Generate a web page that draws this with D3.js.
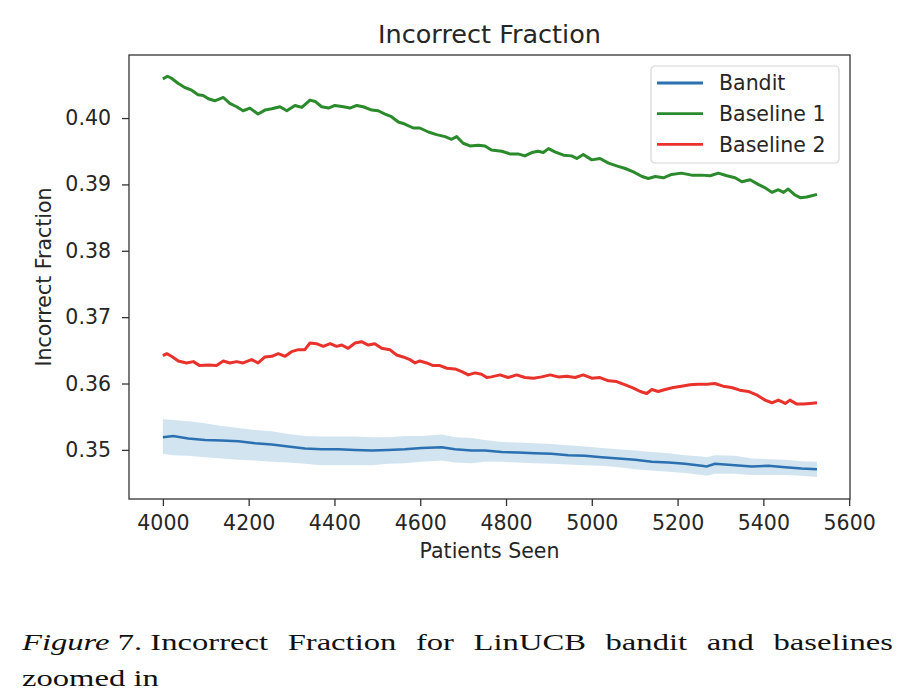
<!DOCTYPE html>
<html>
<head>
<meta charset="utf-8">
<script src="https://cdn.jsdelivr.net/npm/d3@7"></script>
<style>
  body { margin: 0; background: #fff; }
  text { fill: #262626; }
</style>
</head>
<body>
<div id="chart"></div>
<script>
// 刻度
const xTicks = [4000, 4200, 4400, 4600, 4800, 5000, 5200, 5400, 5600];
const yTicks = [0.35, 0.36, 0.37, 0.38, 0.39, 0.40];

const seriesNames = ["Bandit", "Baseline 1", "Baseline 2"];
const seriesColors = ["#2b70b0", "#2b8a2b", "#e8322b"];

// Baseline 1 [patients, fraction]
const baseline1 = [
  [4000, 0.4059], [4011, 0.4063], [4020, 0.4060], [4036, 0.4052], [4051, 0.4046],
  [4067, 0.4042], [4082, 0.4035], [4094, 0.4034], [4106, 0.4029], [4121, 0.4026],
  [4141, 0.4031], [4156, 0.4022], [4172, 0.4017], [4187, 0.4011], [4203, 0.4015],
  [4222, 0.4006], [4238, 0.4012], [4254, 0.4014], [4273, 0.4017], [4289, 0.4011],
  [4308, 0.4019], [4324, 0.4016], [4343, 0.4027], [4355, 0.4025], [4370, 0.4017],
  [4386, 0.4015], [4401, 0.4019], [4421, 0.4017], [4436, 0.4015], [4452, 0.4019],
  [4467, 0.4017], [4487, 0.4012], [4502, 0.4011], [4518, 0.4006], [4533, 0.4002],
  [4549, 0.3994], [4564, 0.3991], [4584, 0.3985], [4599, 0.3985], [4619, 0.3979],
  [4638, 0.3975], [4658, 0.3972], [4673, 0.3968], [4685, 0.3972], [4700, 0.3962],
  [4716, 0.3958], [4735, 0.3959], [4751, 0.3958], [4766, 0.3952], [4790, 0.3950],
  [4809, 0.3946], [4828, 0.3946], [4844, 0.3943], [4860, 0.3948], [4875, 0.3950],
  [4887, 0.3948], [4899, 0.3954], [4914, 0.3949], [4934, 0.3944], [4953, 0.3943],
  [4965, 0.3939], [4980, 0.3945], [5000, 0.3937], [5019, 0.3939], [5039, 0.3932],
  [5058, 0.3928], [5078, 0.3924], [5097, 0.3919], [5117, 0.3912], [5132, 0.3909],
  [5148, 0.3912], [5167, 0.3910], [5186, 0.3915], [5209, 0.3917], [5233, 0.3914],
  [5256, 0.3914], [5276, 0.3913], [5295, 0.3917], [5315, 0.3913], [5334, 0.3910],
  [5350, 0.3904], [5369, 0.3907], [5388, 0.3900], [5404, 0.3895], [5420, 0.3888],
  [5435, 0.3892], [5447, 0.3888], [5458, 0.3893], [5474, 0.3884], [5486, 0.3880],
  [5501, 0.3881], [5513, 0.3883], [5525, 0.3885]
];

// Baseline 2
const baseline2 = [
  [4000, 0.3642], [4009, 0.3645], [4020, 0.3641], [4036, 0.3634], [4055, 0.3631],
  [4071, 0.3633], [4086, 0.3627], [4106, 0.3628], [4125, 0.3627], [4141, 0.3634],
  [4156, 0.3631], [4172, 0.3633], [4187, 0.3631], [4207, 0.3636], [4222, 0.3631],
  [4238, 0.3640], [4254, 0.3641], [4269, 0.3645], [4285, 0.3641], [4300, 0.3648],
  [4316, 0.3651], [4331, 0.3651], [4343, 0.3661], [4358, 0.3660], [4374, 0.3656],
  [4390, 0.3660], [4405, 0.3656], [4417, 0.3658], [4432, 0.3653], [4448, 0.3661],
  [4463, 0.3663], [4479, 0.3658], [4494, 0.3660], [4510, 0.3653], [4529, 0.3651],
  [4545, 0.3643], [4560, 0.3640], [4576, 0.3636], [4588, 0.3631], [4599, 0.3634],
  [4615, 0.3631], [4630, 0.3627], [4646, 0.3627], [4662, 0.3623], [4681, 0.3622],
  [4697, 0.3618], [4712, 0.3613], [4728, 0.3616], [4743, 0.3614], [4755, 0.3609],
  [4766, 0.3610], [4786, 0.3613], [4805, 0.3609], [4825, 0.3613], [4844, 0.3609],
  [4864, 0.3608], [4883, 0.3610], [4903, 0.3613], [4922, 0.3610], [4942, 0.3611],
  [4961, 0.3609], [4980, 0.3613], [5000, 0.3608], [5019, 0.3609], [5039, 0.3604],
  [5058, 0.3603], [5078, 0.3598], [5097, 0.3593], [5113, 0.3588], [5128, 0.3585],
  [5140, 0.3591], [5155, 0.3588], [5171, 0.3591], [5190, 0.3594], [5209, 0.3596],
  [5229, 0.3598], [5248, 0.3599], [5268, 0.3599], [5287, 0.3600], [5306, 0.3596],
  [5326, 0.3594], [5345, 0.3590], [5365, 0.3588], [5384, 0.3583], [5404, 0.3575],
  [5420, 0.3571], [5435, 0.3575], [5451, 0.3570], [5462, 0.3575], [5478, 0.3569],
  [5493, 0.3569], [5509, 0.3570], [5525, 0.3571]
];

// Bandit: 均值与置信带
const banditX = [4000, 4024, 4059, 4098, 4137, 4176, 4215, 4254, 4292, 4331,
  4370, 4409, 4448, 4487, 4525, 4564, 4603, 4650, 4681, 4720,
  4751, 4790, 4828, 4867, 4906, 4945, 4984, 5023, 5062, 5101,
  5140, 5179, 5217, 5256, 5268, 5287, 5334, 5373, 5412, 5451, 5489, 5525];
const banditMean = [0.3519, 0.3521, 0.3517, 0.3515, 0.3514, 0.3513, 0.3510, 0.3508, 0.3505, 0.3502,
  0.3501, 0.3501, 0.3500, 0.3499, 0.3500, 0.3501, 0.3503, 0.3504, 0.3501, 0.3499,
  0.3499, 0.3497, 0.3496, 0.3495, 0.3494, 0.3492, 0.3491, 0.3489, 0.3487, 0.3485,
  0.3482, 0.3481, 0.3479, 0.3476, 0.3475, 0.3479, 0.3477, 0.3475, 0.3476, 0.3474, 0.3472, 0.3471];
const banditHi = [0.3546, 0.3545, 0.3543, 0.3540, 0.3536, 0.3533, 0.3530, 0.3528, 0.3524, 0.3521,
  0.3520, 0.3520, 0.3520, 0.3519, 0.3519, 0.3521, 0.3521, 0.3523, 0.3519, 0.3518,
  0.3515, 0.3512, 0.3511, 0.3510, 0.3509, 0.3507, 0.3505, 0.3503, 0.3501, 0.3499,
  0.3497, 0.3495, 0.3492, 0.3490, 0.3489, 0.3492, 0.3491, 0.3487, 0.3486, 0.3485, 0.3483, 0.3482];
const banditLo = [0.3494, 0.3492, 0.3491, 0.3489, 0.3487, 0.3485, 0.3484, 0.3482, 0.3481, 0.3479,
  0.3477, 0.3477, 0.3477, 0.3477, 0.3479, 0.3480, 0.3482, 0.3484, 0.3481, 0.3480,
  0.3482, 0.3482, 0.3481, 0.3480, 0.3479, 0.3478, 0.3477, 0.3476, 0.3474, 0.3471,
  0.3469, 0.3467, 0.3465, 0.3462, 0.3461, 0.3464, 0.3464, 0.3462, 0.3462, 0.3462, 0.3461, 0.3459];

const captionWords = ["Incorrect", "Fraction", "for", "LinUCB", "bandit", "and", "baselines"];

// 尺寸
const width = 916;
const height = 698;
const plot = { left: 129, right: 850, top: 55, bottom: 499 };
const font = "'DejaVu Sans', sans-serif";

const svg = d3.select("#chart").append("svg")
  .attr("width", width)
  .attr("height", height);

svg.append("rect").attr("width", width).attr("height", height).attr("fill", "#fff");

const x = d3.scaleLinear().domain([3921, 5602]).range([plot.left, plot.right]);
const y = d3.scaleLinear().domain([0.3426, 0.4095]).range([plot.bottom, plot.top]);

// 置信带
const band = banditX.map((v, i) => ({ x: v, lo: banditLo[i], hi: banditHi[i], m: banditMean[i] }));
svg.append("path")
  .datum(band)
  .attr("d", d3.area().x(d => x(d.x)).y0(d => y(d.lo)).y1(d => y(d.hi)))
  .attr("fill", "#1f77b4")
  .attr("fill-opacity", 0.2);

const line = d3.line().x(d => x(d[0])).y(d => y(d[1]));

svg.append("path")
  .datum(band.map(d => [d.x, d.m]))
  .attr("d", line)
  .attr("fill", "none")
  .attr("stroke", seriesColors[0])
  .attr("stroke-width", 2.5);

svg.append("path")
  .datum(baseline1)
  .attr("d", line)
  .attr("fill", "none")
  .attr("stroke", seriesColors[1])
  .attr("stroke-width", 3)
  .attr("stroke-linejoin", "round");

svg.append("path")
  .datum(baseline2)
  .attr("d", line)
  .attr("fill", "none")
  .attr("stroke", seriesColors[2])
  .attr("stroke-width", 3)
  .attr("stroke-linejoin", "round");

// 坐标轴
const xAxis = svg.append("g")
  .attr("transform", `translate(0,${plot.bottom})`)
  .call(d3.axisBottom(x).tickValues(xTicks).tickFormat(d3.format("d")).tickSize(7).tickPadding(9).tickSizeOuter(0));

const yAxis = svg.append("g")
  .attr("transform", `translate(${plot.left},0)`)
  .call(d3.axisLeft(y).tickValues(yTicks).tickFormat(d3.format(".2f")).tickSize(7).tickPadding(11).tickSizeOuter(0));

[xAxis, yAxis].forEach(g => {
  g.select(".domain").remove();
  g.selectAll("line").attr("stroke", "#333").attr("stroke-width", 1.3);
  g.selectAll("text").attr("font-family", font).attr("font-size", "20.5px").attr("fill", "#262626");
});

// 边框
svg.append("rect")
  .attr("x", plot.left).attr("y", plot.top)
  .attr("width", plot.right - plot.left).attr("height", plot.bottom - plot.top)
  .attr("fill", "none").attr("stroke", "#333").attr("stroke-width", 1.3);

// 标题和轴标签
svg.append("text")
  .attr("x", (plot.left + plot.right) / 2).attr("y", 43)
  .attr("text-anchor", "middle")
  .attr("font-family", font).attr("font-size", "25.5px")
  .text("Incorrect Fraction");

svg.append("text")
  .attr("x", (plot.left + plot.right) / 2).attr("y", 558)
  .attr("text-anchor", "middle")
  .attr("font-family", font).attr("font-size", "20.5px")
  .text("Patients Seen");

svg.append("text")
  .attr("transform", `translate(51,${(plot.top + plot.bottom) / 2}) rotate(-90)`)
  .attr("text-anchor", "middle")
  .attr("font-family", font).attr("font-size", "20.5px")
  .text("Incorrect Fraction");

// 图例
const legend = svg.append("g").attr("transform", "translate(651,66)");
legend.append("rect")
  .attr("width", 188).attr("height", 97).attr("rx", 4)
  .attr("fill", "#fff").attr("fill-opacity", 0.8)
  .attr("stroke", "#d6d6d6").attr("stroke-width", 1.2);

const items = legend.selectAll("g.item")
  .data(seriesNames)
  .enter()
  .append("g")
  .attr("class", "item")
  .attr("transform", (d, i) => `translate(0,${17 + i * 30.7})`);

items.append("line")
  .attr("x1", 6).attr("x2", 52)
  .attr("stroke", (d, i) => seriesColors[i])
  .attr("stroke-width", 2.8);

items.append("text")
  .attr("x", 68).attr("dy", "0.36em")
  .attr("font-family", font).attr("font-size", "20.5px")
  .text(d => d);

// 图注 (两端对齐)
const serif = "'Liberation Serif', 'Times New Roman', serif";
const cap = svg.append("g").attr("transform", "translate(22,0) scale(1.36,1)");
const capWidth = (893 - 22) / 1.36;

const lead = cap.append("text")
  .attr("x", 0).attr("y", 650)
  .attr("font-family", serif).attr("font-size", "24px").style("fill", "#111");
lead.append("tspan").attr("font-style", "italic").text("Figure");
lead.append("tspan").text(" 7.");
const leadW = lead.node().getComputedTextLength() + 6;

const wordNodes = captionWords.map(w => cap.append("text")
  .attr("y", 650)
  .attr("font-family", serif).attr("font-size", "24px").style("fill", "#111")
  .text(w));
const widths = wordNodes.map(n => n.node().getComputedTextLength());
const gap = (capWidth - leadW - d3.sum(widths)) / (captionWords.length - 1);
let cx = leadW;
wordNodes.forEach((n, i) => { n.attr("x", cx); cx += widths[i] + gap; });

cap.append("text")
  .attr("x", 0).attr("y", 686)
  .attr("font-family", serif).attr("font-size", "24px").style("fill", "#111")
  .text("zoomed in");
</script>
</body>
</html>
